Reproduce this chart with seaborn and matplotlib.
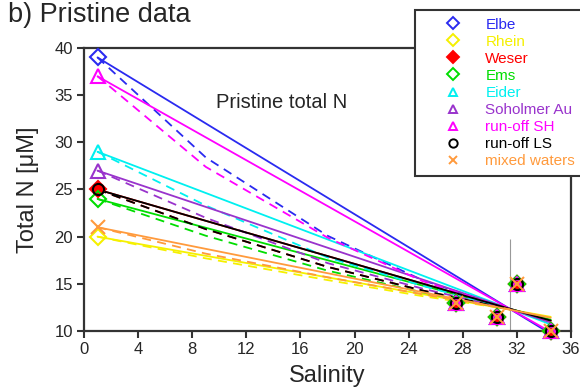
import matplotlib
matplotlib.use("Agg")
import matplotlib.pyplot as plt
from matplotlib.lines import Line2D
import seaborn as sns

# --- data ---
series = ["Elbe", "Rhein", "Weser", "Ems", "Eider", "Soholmer Au",
          "run-off SH", "run-off LS", "mixed waters"]
colors = ["#2a2af0", "#f5f000", "#ff0000", "#00dd00", "#00f0f0",
          "#9933cc", "#ff00ff", "#000000", "#ff9a3c"]
markers = ["D", "D", "D", "D", "^", "^", "^", "o", "x"]
filled = [False, False, True, False, False, False, False, False, False]

# river end members (salinity ~1)
river_salinity = 1.0
river_n = [39, 20, 25, 24, 29, 27, 37, 25, 21]

# marine stations, same for every series
marine_salinity = [27.5, 30.5, 32.0, 34.5]
marine_n = [13.0, 11.5, 15.0, 10.0]

# solid mixing lines: from river end member to salinity 34.5
line_end_salinity = 34.5
line_end_n = [9.7, 11.5, 11.1, 11.2, 10.7, 10.9, 9.9, 11.1, 11.4]

# dashed curves
dashed_salinity = [1, 9, 18, 25, 31.5]
dashed_n = [
    [39, 28.4, 20.1, 15.4, 12.3],  # Elbe
    [20, 17.7, 15.4, 13.7, 12.3],  # Rhein
    [25, 20.8, 16.8, 14.3, 12.3],  # Weser
    [24, 20.1, 16.4, 14.1, 12.3],  # Ems
    [29, 23.3, 17.8, 14.8, 12.3],  # Eider
    [27, 22.0, 17.2, 14.5, 12.3],  # Soholmer Au
    [37, 27.4, 19.9, 15.3, 12.3],  # run-off SH
    [25, 20.8, 16.8, 14.3, 12.3],  # run-off LS
    [21, 18.2, 15.7, 13.9, 12.3],  # mixed waters
]

front_salinity = 31.5
front_n_top = 19.7

sns.set_style("ticks")
plt.rcParams["font.family"] = ["Liberation Sans", "DejaVu Sans"]

fig = plt.figure(figsize=(5.8, 3.87), dpi=100)
ax = fig.add_axes([0.1448, 0.1447, 0.8397, 0.7313])

for i, name in enumerate(series):
    c = colors[i]
    # solid mixing line
    sns.lineplot(x=[river_salinity, line_end_salinity], y=[river_n[i], line_end_n[i]],
                 color=c, lw=1.3, ax=ax, estimator=None, sort=False, zorder=2)
    # dashed curve
    sns.lineplot(x=dashed_salinity, y=dashed_n[i], color=c, lw=1.3, ax=ax,
                 estimator=None, sort=False, zorder=2, linestyle=(0, (5, 3.5)))

ax.vlines(front_salinity, 10, front_n_top, color="#999999", lw=0.8, zorder=1)

for i, name in enumerate(series):
    c = colors[i]
    fc = c if filled[i] else "none"
    ms = 10 if markers[i] in ("^", "x") else 8
    xs = [river_salinity] + marine_salinity
    ys = [river_n[i]] + marine_n
    sns.lineplot(x=xs, y=ys, ax=ax, estimator=None, sort=False, color=c,
                 linestyle="", marker=markers[i], markersize=ms,
                 markerfacecolor=fc, markeredgecolor=c, markeredgewidth=1.5,
                 clip_on=False, zorder=4)

ax.set_xlim(0, 36)
ax.set_ylim(10, 40)
ax.set_xticks(range(0, 37, 4))
ax.set_yticks(range(10, 41, 5))
ax.set_xlabel("Salinity", fontsize=17, labelpad=6)
ax.set_ylabel("Total N [μM]", fontsize=17, labelpad=11)
ax.tick_params(labelsize=12, length=5, width=1.5, color="#333333", pad=3)
for sp in ax.spines.values():
    sp.set_visible(True)
    sp.set_color("#333333")
    sp.set_linewidth(1.6)

ax.text(14.6, 34.2, "Pristine total N", fontsize=14.5, ha="center", va="center")
fig.text(0.014, 0.995, "b) Pristine data", fontsize=19.5, ha="left", va="top")

handles = []
for i, name in enumerate(series):
    fc = colors[i] if filled[i] else "none"
    handles.append(Line2D([], [], linestyle="", marker=markers[i], color=colors[i],
                          markerfacecolor=fc, markeredgecolor=colors[i],
                          markersize=6, markeredgewidth=1.4))
leg = ax.legend(handles, series, loc="upper left",
                bbox_to_anchor=(415 / 580, 1 - 10 / 387), bbox_transform=fig.transFigure,
                frameon=True, fancybox=False, framealpha=1, edgecolor="#333333",
                fontsize=11, labelcolor=colors, handlelength=4.0, handletextpad=0.1,
                borderpad=0.5, labelspacing=0.2, borderaxespad=0)
leg.get_frame().set_linewidth(1.5)
leg.set_zorder(10)

fig.savefig("out.png", dpi=100)
